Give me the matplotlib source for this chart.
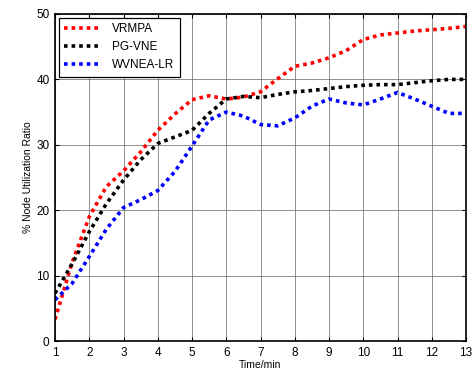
import matplotlib
matplotlib.use("Agg")
import matplotlib.pyplot as plt

x = [1, 1.5, 2, 2.5, 3, 3.5, 4, 4.5, 5, 5.5, 6, 6.5, 7, 7.5, 8, 8.5, 9, 9.5,
     10, 10.5, 11, 11.5, 12, 12.5, 13]
vrmpa = [3.3, 12.0, 19.0, 23.6, 26.0, 28.9, 32.2, 34.7, 36.9, 37.5, 37.0, 37.3,
         38.1, 40.1, 42.0, 42.5, 43.3, 44.4, 46.1, 46.8, 47.1, 47.4, 47.6, 47.8, 48.1]
pgvne = [7.3, 11.8, 16.7, 21.0, 24.6, 27.7, 30.2, 31.2, 32.2, 34.8, 37.0, 37.4,
         37.2, 37.7, 38.1, 38.3, 38.6, 38.9, 39.1, 39.2, 39.2, 39.5, 39.8, 40.0, 40.0]
wvnea = [6.3, 8.8, 12.9, 17.1, 20.4, 21.6, 23.0, 25.9, 29.8, 33.8, 35.0, 34.4,
         33.1, 32.9, 34.1, 35.9, 37.0, 36.4, 36.1, 37.0, 38.0, 37.0, 35.9, 34.8, 34.8]
labels = ["VRMPA", "PG-VNE", "WVNEA-LR"]
colors = ["#ff0000", "#000000", "#0000ff"]
xticks = list(range(1, 14))
yticks = [0, 10, 20, 30, 40, 50]

plt.rcParams['font.family'] = ['Liberation Sans', 'DejaVu Sans']

fig = plt.figure(figsize=(4.74, 3.75), dpi=100)
ax = fig.add_axes([55/474, 1 - 341/375, (466-55)/474, (341-14)/375])

for ys, lab, c in zip([vrmpa, pgvne, wvnea], labels, colors):
    ax.plot(x, ys, color=c, lw=2.6, linestyle=(0, (1, 1.1)),
            dash_capstyle='butt', label=lab)

ax.set_xlim(1, 13)
ax.set_ylim(0, 50)
ax.set_xticks(xticks)
ax.set_yticks(yticks)
ax.tick_params(direction='in', top=True, right=True, labelsize=8.5, length=3,
               width=0.8, pad=4)
ax.grid(True, color='0.45', lw=0.7, linestyle='-', alpha=0.8)
for s in ax.spines.values():
    s.set_linewidth(1.2)
ax.set_xlabel("Time/min", fontsize=7.5, labelpad=1)
ax.set_ylabel("% Node Utilization Ratio", fontsize=7.5, labelpad=2)

leg = ax.legend(loc='upper left', fontsize=8.5, frameon=True, fancybox=False,
                edgecolor='black', framealpha=1, borderaxespad=0.3,
                handlelength=3.2, handletextpad=0.8, labelspacing=0.5,
                borderpad=0.5)
leg.get_frame().set_linewidth(0.9)

fig.savefig("out.png", dpi=100)
